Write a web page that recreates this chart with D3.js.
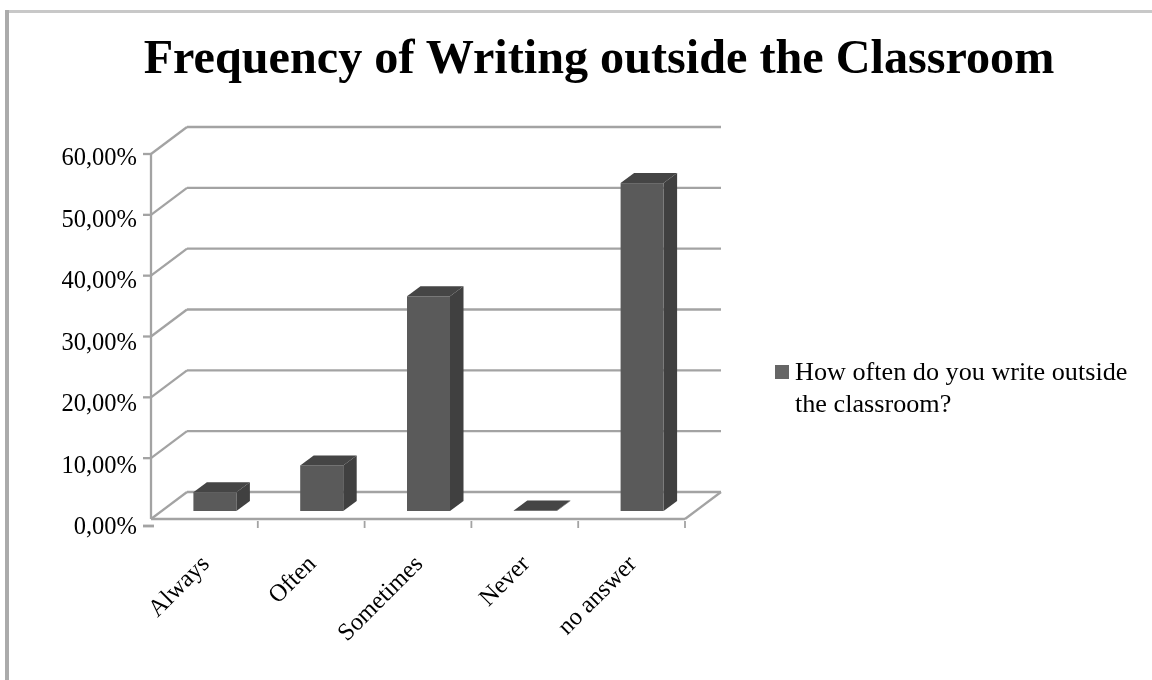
<!DOCTYPE html>
<html><head><meta charset="utf-8">
<script src="https://cdn.jsdelivr.net/npm/d3@7"></script>
<style>html,body{margin:0;padding:0;background:#fff}svg{display:block}text{font-family:"Liberation Serif",serif;fill:#000}</style>
</head><body><div id="chart"></div>
<script>
const titleText = "Frequency of Writing outside the Classroom";
const categories = ["Always","Often","Sometimes","Never","no answer"];
const values = [3.1,7.5,35.3,0.1,53.9];
const yTicks = [0,10,20,30,40,50,60];
const legendLines = ["How often do you write outside","the classroom?"];
const W=1152,H=680;
const svg=d3.select("#chart").append("svg").attr("width",W).attr("height",H);
const defs=svg.append("defs");
defs.append("filter").attr("id","soft").append("feGaussianBlur").attr("stdDeviation",0.75);
defs.append("filter").attr("id","softText").append("feGaussianBlur").attr("stdDeviation",0.35);
// frame
svg.append("rect").attr("x",5).attr("y",10).attr("width",W-5).attr("height",3).attr("fill","#c8c8c8");
svg.append("rect").attr("x",5).attr("y",10).attr("width",4).attr("height",H-10).attr("fill","#ababab");
svg.append("text").attr("x",599).attr("y",72.5).attr("text-anchor","middle").attr("font-size",48.2).attr("font-weight","bold").attr("filter","url(#softText)").text(titleText);
const x=d3.scaleBand().domain(categories).range([151,685]);
const y=d3.scaleLinear().domain([0,60]).range([519,154]);
const depth={x:36,y:-27}, barDepth={x:13.5,y:-10};
const g=svg.append("g").attr("filter","url(#soft)");
const grid="#a3a3a3";
const line=(x1,y1,x2,y2,w=2.3,c=grid)=>g.append("line").attr("x1",x1).attr("y1",y1).attr("x2",x2).attr("y2",y2).attr("stroke",c).attr("stroke-width",w);
yTicks.forEach(t=>{
  const v=y(t);
  line(x.range()[0],v,x.range()[0]+depth.x,v+depth.y);
  line(x.range()[0]+depth.x,v+depth.y,x.range()[1]+depth.x,v+depth.y);
  if(t>0) line(143,v,x.range()[0],v);
});
line(151,y(60),151,y(0));
line(151,y(0),685,y(0));
line(685,y(0),685+depth.x,y(0)+depth.y);
line(143,526,154,526,2.8);
categories.forEach(c=>line(x(c)+x.bandwidth(),y(0)+2,x(c)+x.bandwidth(),y(0)+9,1.8));
const barW=43, bottom=y(0)-8, k=(y(0)-y(1));
categories.forEach((c,i)=>{
  const x0=x(c)+x.bandwidth()/2-11, x1=x0+barW;
  const h=values[i]*k, top=bottom-h;
  const d=barDepth;
  g.append("path").attr("d",`M${x1},${top}L${x1+d.x},${top+d.y}L${x1+d.x},${bottom+d.y}L${x1},${bottom}Z`).attr("fill","#3f3f3f");
  g.append("path").attr("d",`M${x0},${top}L${x0+d.x},${top+d.y}L${x1+d.x},${top+d.y}L${x1},${top}Z`).attr("fill","#444");
  g.append("rect").attr("x",x0).attr("y",top).attr("width",barW).attr("height",h).attr("fill","#5a5a5a");
});
const t=svg.append("g").attr("filter","url(#softText)");
const yAxisLabels=d3.scaleLinear().domain([0,60]).range([526,157]);
yTicks.forEach(v=>t.append("text").attr("x",137).attr("y",yAxisLabels(v)+8).attr("text-anchor","end").attr("font-size",24.5)
  .text(d3.format(".2f")(v).replace(".",",")+"%"));
categories.forEach(c=>{
  const cx=x(c)+x.bandwidth()/2+6;
  t.append("text").attr("transform",`translate(${cx},565) rotate(-45)`).attr("text-anchor","end").attr("font-size",24.5).text(c);
});
svg.append("rect").attr("x",775).attr("y",365).attr("width",14).attr("height",14).attr("fill","#666").attr("filter","url(#softText)");
legendLines.forEach((l,i)=>t.append("text").attr("x",795).attr("y",379.5+i*32.5).attr("font-size",26.2).text(l));
</script></body></html>
